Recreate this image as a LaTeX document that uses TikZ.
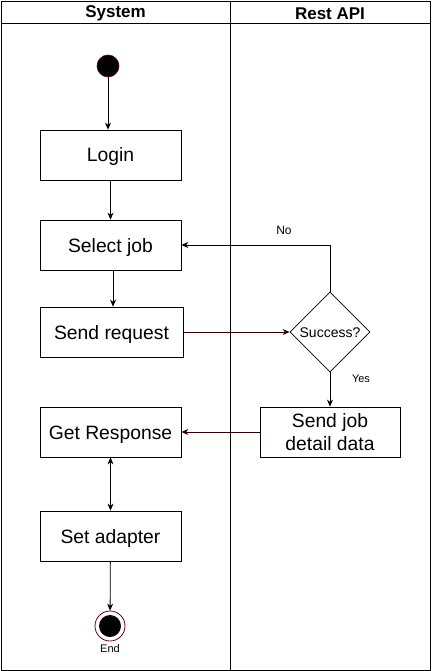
\documentclass[tikz,border=0pt]{standalone}
\usepackage{fontspec}
\setmainfont{Liberation Sans}
\usetikzlibrary{arrows.meta,shapes.geometric}
\definecolor{maroon}{HTML}{330000}
\definecolor{ring}{HTML}{660000}
\tikzset{
  x=1pt,y=-1pt,
  box/.style={draw,line width=0.8pt,minimum width=141pt,minimum height=50pt,inner sep=0pt,font=\fontsize{19.3}{23}\selectfont,align=center},
  onel/.style={text height=14pt,text depth=0pt},
  dec/.style={draw,diamond,line width=0.8pt,minimum width=80pt,minimum height=80pt,inner sep=0pt,font=\fontsize{14}{16}\selectfont,text height=10pt,text depth=0pt},
  arr/.style={line width=0.8pt,-{Stealth[length=7pt,width=6pt]}},
  lbl/.style={font=\fontsize{12}{14}\selectfont,inner sep=0pt},
  head/.style={font=\bfseries\fontsize{17}{20}\selectfont,inner sep=0pt},
}
\begin{document}
\begin{tikzpicture}
\useasboundingbox (0,0) rectangle (431,671);
\fill[white] (0,0) rectangle (431,671);
% frame
\draw[line width=0.8pt] (1,1) rectangle (430,670);
\draw[line width=0.8pt] (1,23) -- (430,23);
\draw[line width=0.8pt] (230,1) -- (230,670);
\node[head] (h1) at (115.5,13.5) {System};
\node[head] (h2) at (330,13.5) {Rest API};
% start
\node[circle,fill=black,draw=ring,line width=0.6pt,minimum size=22pt,inner sep=0pt] (start) at (108,66) {};
\node[box,onel] (login) at (110.5,155) {Login};
\node[box,onel] (select) at (110.5,245) {Select job};
\node[box,onel,minimum width=143pt] (send) at (111.5,332) {Send request};
\node[dec] (succ) at (330,332) {Success?};
\node[box,minimum width=140pt] (detail) at (330,432) {Send job\\detail data};
\node[box,onel] (resp) at (110.5,432) {Get Response};
\node[box,onel] (adapt) at (110.5,536) {Set adapter};
\node[circle,draw=ring,fill=white,line width=0.8pt,minimum size=30pt,inner sep=0pt] (endo) at (110,626) {};
\node[circle,fill=black,minimum size=22pt,inner sep=0pt] (endi) at (110,626) {};
\node[lbl,font=\fontsize{11}{13}\selectfont] (endl) at (110,649) {End};
% connectors
\draw[arr] (start) -- (start |- login.north);
\draw[arr] (login) -- (select);
\draw[arr] (select.south -| 113,0) -- (send.north -| 113,0);
\draw[arr,maroon] (send) -- (succ);
\draw[arr] (succ.north) -- (330,245) -- (select.east);
\node[lbl] (no) at (284,230) {No};
\draw[arr] (succ.south) -- (detail.north);
\node[lbl,font=\fontsize{11}{13}\selectfont] (yes) at (361,379) {Yes};
\draw[arr,maroon] (detail) -- (resp);
\draw[line width=0.8pt,{Stealth[length=7pt,width=6pt]}-{Stealth[length=7pt,width=6pt]}] (resp) -- (adapt);
\draw[arr] (adapt) -- (endo);
\end{tikzpicture}
\end{document}
